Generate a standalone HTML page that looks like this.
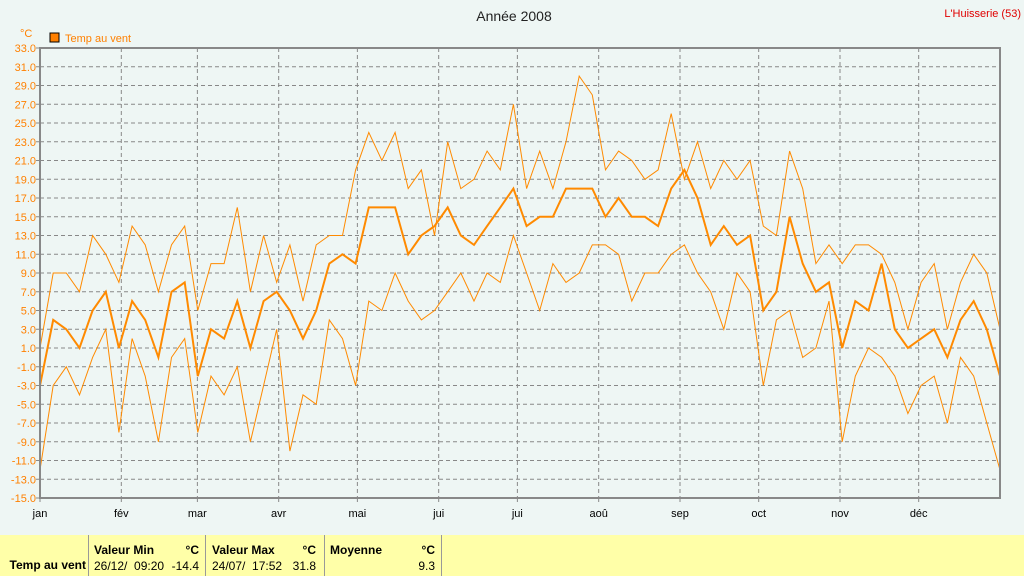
<!DOCTYPE html>
<html><head><meta charset="utf-8"><style>
body{margin:0;width:1024px;height:576px;overflow:hidden;background:#eef6f4;font-family:"Liberation Sans",sans-serif;}
svg{position:absolute;left:0;top:0;}
.ft{position:absolute;top:535px;height:41px;background:#ffffa8;font-size:12px;}
</style></head><body>
<svg id="chart" width="1024" height="576">
<text x="514" y="21" font-size="14" text-anchor="middle" fill="#222">Année 2008</text>
<text x="1021" y="17" font-size="11" text-anchor="end" fill="#e00000">L'Huisserie (53)</text>
<text x="20" y="37" font-size="11" fill="#ff8000">°C</text>
<rect x="50" y="33" width="9" height="9" fill="#ff8000" stroke="#000"/>
<text x="65" y="42" font-size="11" fill="#ff8000">Temp au vent</text>
<g id="grid"></g><g id="series"></g>
<rect x="40" y="48" width="960" height="450" fill="none" stroke="#888" stroke-width="2"/>
</svg>
<div class="ft" style="left:0;width:88px;border-right:1px solid #999"><b style="position:absolute;right:2px;top:23px">Temp au vent</b></div>
<div class="ft" style="left:89px;width:116px;border-right:1px solid #999"><b style="position:absolute;left:5px;top:8px">Valeur Min</b><b style="position:absolute;right:6px;top:8px">°C</b><span style="position:absolute;left:5px;top:24px">26/12/&nbsp; 09:20</span><span style="position:absolute;right:6px;top:24px">-14.4</span></div>
<div class="ft" style="left:206px;width:118px;border-right:1px solid #999"><b style="position:absolute;left:6px;top:8px">Valeur Max</b><b style="position:absolute;right:8px;top:8px">°C</b><span style="position:absolute;left:6px;top:24px">24/07/&nbsp; 17:52</span><span style="position:absolute;right:8px;top:24px">31.8</span></div>
<div class="ft" style="left:325px;width:116px;border-right:1px solid #999"><b style="position:absolute;left:5px;top:8px">Moyenne</b><b style="position:absolute;right:6px;top:8px">°C</b><span style="position:absolute;right:6px;top:24px">9.3</span></div>
<div class="ft" style="left:442px;width:582px"></div>
<script>
const months=["jan","fév","mar","avr","mai","jui","jui","aoû","sep","oct","nov","déc"];
const monthStartDays=[0,31,60,91,121,152,182,213,244,274,305,335];
const yTicks=[33,31,29,27,25,23,21,19,17,15,13,11,9,7,5,3,1,-1,-3,-5,-7,-9,-11,-13,-15];
const maxT=[1,9,9,7,13,11,8,14,12,7,12,14,5,10,10,16,7,13,8,12,6,12,13,13,20,24,21,24,18,20,13,23,18,19,22,20,27,18,22,18,23,30,28,20,22,21,19,20,26,19,23,18,21,19,21,14,13,22,18,10,12,10,12,12,11,8,3,8,10,3,8,11,9,3];
const avgT=[-3,4,3,1,5,7,1,6,4,0,7,8,-2,3,2,6,1,6,7,5,2,5,10,11,10,16,16,16,11,13,14,16,13,12,14,16,18,14,15,15,18,18,18,15,17,15,15,14,18,20,17,12,14,12,13,5,7,15,10,7,8,1,6,5,10,3,1,2,3,0,4,6,3,-2];
const minT=[-12,-3,-1,-4,0,3,-8,2,-2,-9,0,2,-8,-2,-4,-1,-9,-3,3,-10,-4,-5,4,2,-3,6,5,9,6,4,5,7,9,6,9,8,13,9,5,10,8,9,12,12,11,6,9,9,11,12,9,7,3,9,7,-3,4,5,0,1,6,-9,-2,1,0,-2,-6,-3,-2,-7,0,-2,-7,-12];
const X0=40,X1=1000,Y0=48,Y1=498,VMAX=33,VMIN=-15,NDAYS=366;
const xs=d=>X0+d*(X1-X0)/NDAYS;
const ys=v=>Y0+(VMAX-v)*(Y1-Y0)/(VMAX-VMIN);
const NS="http://www.w3.org/2000/svg";
const svg=document.getElementById('chart'),grid=document.getElementById('grid'),ser=document.getElementById('series');
function mk(t,a,p){const e=document.createElementNS(NS,t);for(const k in a)e.setAttribute(k,a[k]);p.appendChild(e);return e;}
yTicks.forEach(v=>{
 const y=ys(v);
 if(v!==VMAX&&v!==VMIN){const l=mk('line',{x1:X0,x2:X1,y1:y,y2:y,stroke:'#888','stroke-dasharray':'4,3'},grid);
 
 }
 const t=mk('text',{x:36,y:y+4,'font-size':11,'text-anchor':'end',fill:'#ff8000'},grid);t.textContent=v.toFixed(1);
 
 
 mk('line',{x1:36,x2:40,y1:y,y2:y,stroke:'#888'},grid);
});
months.forEach((m,i)=>{
 const x=xs(monthStartDays[i]);
 if(i>0){const l=mk('line',{x1:x,x2:x,y1:Y0,y2:Y1,stroke:'#888','stroke-dasharray':'4,3'},grid);
 
 }
 mk('line',{x1:x,x2:x,y1:Y1,y2:Y1+4,stroke:'#888'},grid);
 const t=mk('text',{x:x,y:517,'font-size':11,'text-anchor':'middle',fill:'#000'},grid);t.textContent=m;
 
 
});
function line(arr,w,name){
 const step=NDAYS/(arr.length-1);
 const pts=arr.map((v,i)=>xs(i*step).toFixed(1)+','+ys(v).toFixed(1)).join(' ');
 const p=mk('polyline',{points:pts,fill:'none',stroke:'#ff8a00','stroke-width':w,'stroke-linejoin':'miter'},ser);
 
 
}
line(maxT,1,'max-temp-line');
line(minT,1,'min-temp-line');
line(avgT,2,'avg-temp-line');
</script>
</body></html>
